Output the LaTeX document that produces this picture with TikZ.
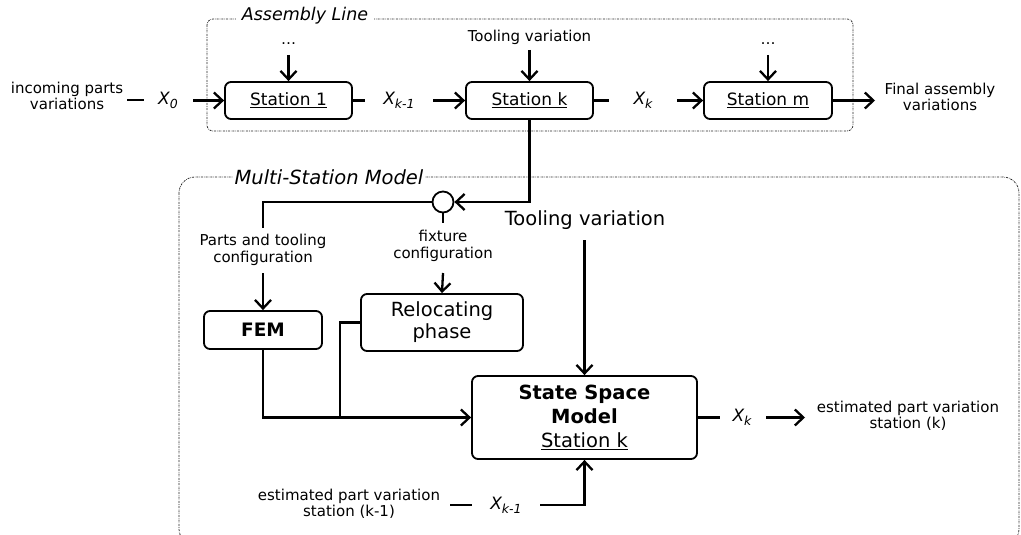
\documentclass[tikz,border=0pt]{standalone}
\usepackage{fontspec}
\setmainfont{DejaVu Sans}
\usetikzlibrary{arrows.meta,calc}

% lowered, smaller subscript for the state labels
\newcommand{\lowsub}[1]{\raisebox{-0.45ex}{\fontsize{12.5}{12.5}\selectfont #1}}

\tikzset{
  conn/.style={line width=2.3pt, -{Straight Barb[length=8.5pt,width=16pt]}},
  plain/.style={line width=2.3pt},
  block/.style={draw, line width=1.8pt, rounded corners=6pt, inner sep=0pt, align=center},
  frame/.style={draw=black!85, line width=0.75pt, dash pattern=on 2pt off 1pt on 0.6pt off 1pt},
  lbl/.style={font=\fontsize{15}{16.5}\selectfont, align=center, inner sep=0pt},
  biglbl/.style={font=\fontsize{19.5}{22}\selectfont, align=center, inner sep=0pt},
  state/.style={font=\fontsize{17}{18}\selectfont\itshape, inner sep=0pt},
  title/.style={font=\fontsize{17.5}{19}\selectfont\itshape, fill=white, inner xsep=6pt, inner ysep=1pt},
}

\begin{document}
\begin{tikzpicture}[x=1pt, y=-1pt]
\useasboundingbox (0,0) rectangle (1021,535);
\clip (0,0) rectangle (1021,535);

% ---------- frames ----------
\draw[frame, rounded corners=6pt] (207,19) rectangle (853,131);
\node[title] (asmTitle) at (305,16) {Assembly Line};
\draw[frame, rounded corners=16pt] (179,177) rectangle (1019,545);
\node[title, font=\fontsize{19.5}{21}\selectfont\itshape, inner xsep=2pt] (msTitle) at (329,177) {Multi-Station Model};

% ---------- assembly line ----------
\node[block, minimum width=127pt, minimum height=37pt, font=\fontsize{17}{18}\selectfont] (s1) at (288.5,100.5) {\underline{Station 1}};
\node[block, minimum width=127pt, minimum height=37pt, font=\fontsize{17}{18}\selectfont] (sk) at (529.5,100.5) {\underline{Station k}};
\node[block, minimum width=128pt, minimum height=37pt, font=\fontsize{17}{18}\selectfont] (sm) at (768,100.5) {\underline{Station m}};

\node[lbl, anchor=base] (d1) at (288.5,45) {…};
\node[lbl, anchor=base] (dm) at (768,45) {…};
\node[lbl] (toolTop) at (529.5,37) {Tooling variation};
\coordinate (d1b) at (288.5,55);
\coordinate (dmb) at (768,55);
\coordinate (toolTopb) at (529.5,50);
\draw[conn] (d1b) -- (s1.north);
\draw[conn] (dmb) -- (sm.north);
\draw[conn] (toolTopb) -- (sk.north);

\node[lbl] (inc) at (67,96) {incoming parts\\variations};
\coordinate (dashA1) at (127,100);
\coordinate (dashA2) at (144,100);
\draw[plain] (dashA1) -- (dashA2);
\node[state] (x0) at (168,100) {X\lowsub{0}};
\coordinate (x0r) at (193,100.5);
\draw[conn] (x0r) -- (s1.west);

\coordinate (s1stub) at (365,100.5);
\draw[plain] (s1.east) -- (s1stub);
\node[state] (xkm1) at (399,100) {X\lowsub{k-1}};
\coordinate (xkm1r) at (433,100.5);
\draw[conn] (xkm1r) -- (sk.west);

\coordinate (skstub) at (609,100.5);
\draw[plain] (sk.east) -- (skstub);
\node[state] (xk) at (643,100) {X\lowsub{k}};
\coordinate (xkr) at (677,100.5);
\draw[conn] (xkr) -- (sm.west);

\coordinate (finEnd) at (875,100.5);
\draw[conn] (sm.east) -- (finEnd);
\node[lbl] (fin) at (940,97) {Final assembly\\variations};

% ---------- multi-station model ----------
\node[draw, circle, line width=1.8pt, minimum size=21pt, inner sep=0pt] (circ) at (443,202) {};
\draw[conn] (sk.south) |- (circ.east);

\coordinate (ptTop) at (263,228);
\draw[plain] (circ.west) -| (ptTop);
\node[lbl] (ptcfg) at (263,250) {Parts and tooling\\configuration};
\coordinate (ptBot) at (263,273);

\node[block, minimum width=118pt, minimum height=38pt, font=\fontsize{18.5}{20}\selectfont\bfseries] (fem) at (263,330) {FEM};
\draw[conn] (ptBot) -- (fem.north);

\coordinate (fxTop) at (443,223);
\draw[plain] (circ.south) -- (fxTop);
\node[lbl] (fxcfg) at (443,246) {fixture\\configuration};
\coordinate (fxBot) at (443,273);

\node[block, minimum width=162pt, minimum height=57pt, font=\fontsize{19.5}{22}\selectfont] (reloc) at (442,322.5) {Relocating\\phase};
\draw[conn] (fxBot) -- (reloc.north);

\node[block, minimum width=225pt, minimum height=83pt, font=\fontsize{19.5}{24}\selectfont] (ssm) at (584.5,417.5)
  {\textbf{State Space}\\\textbf{Model}\\\underline{Station k}};

\node[biglbl] (toolBig) at (585,220) {Tooling variation};
\coordinate (toolBigb) at (584.5,240);
\draw[conn] (toolBigb) -- (ssm.north);

\coordinate (join) at (340,417.5);
\draw[conn] (fem.south) |- (ssm.west);
\draw[plain] (reloc.west) -| (join);

\coordinate (ssmstub) at (720,417.5);
\draw[plain] (ssm.east) -- (ssmstub);
\node[state] (xkOut) at (742,417) {X\lowsub{k}};
\coordinate (xkOutr) at (766,417.5);
\coordinate (xkOutEnd) at (805,417.5);
\draw[conn] (xkOutr) -- (xkOutEnd);
\node[lbl] (estk) at (908,416) {estimated part variation\\station (k)};

\node[lbl] (estkm1) at (349,504) {estimated part variation\\station (k-1)};
\coordinate (dashB1) at (450,505);
\coordinate (dashB2) at (472,505);
\draw[plain] (dashB1) -- (dashB2);
\node[state] (xkm1In) at (506,505) {X\lowsub{k-1}};
\coordinate (xkm1Inr) at (540,505);
\draw[conn] (xkm1Inr) -| (ssm.south);
\end{tikzpicture}
\end{document}
